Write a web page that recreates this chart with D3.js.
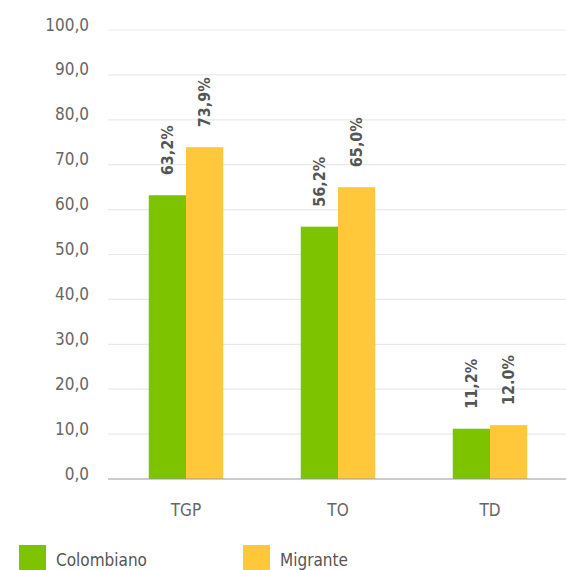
<!DOCTYPE html>
<html>
<head>
<meta charset="utf-8">
<script src="https://cdn.jsdelivr.net/npm/d3@7"></script>
<style>
  html, body { margin: 0; padding: 0; background: #fff; }
  svg { display: block; font-family: "Liberation Sans Narrow", "DejaVu Sans Condensed", Roboto, sans-serif; }
</style>
</head>
<body>
<svg id="chart" width="566" height="570"></svg>
<script>
// Indicadores laborales por origen
const categories = ["TGP", "TO", "TD"];
const seriesNames = ["Colombiano", "Migrante"];
const colombiano = [63.2, 56.2, 11.2];
const migrante = [73.9, 65.0, 12.0];
const valueLabels = [["63,2%", "56,2%", "11,2%"], ["73,9%", "65,0%", "12.0%"]];
const yTicks = [0, 10, 20, 30, 40, 50, 60, 70, 80, 90, 100];
const colors = ["#7dc300", "#ffc83a"];

const svg = d3.select("#chart");
const plotLeft = 108, plotRight = 566, plotTop = 30, plotBottom = 479;

const y = d3.scaleLinear().domain([0, 100]).range([plotBottom, plotTop]);
const x0 = d3.scaleBand().domain(categories).range([110, 566])
  .paddingInner(0.51).paddingOuter(0.255);
const x1 = d3.scaleBand().domain(seriesNames).range([0, x0.bandwidth()]);

// grid lines
svg.append("g").selectAll("line").data(yTicks.filter(d => d > 0)).join("line")
  .attr("x1", plotLeft).attr("x2", plotRight)
  .attr("y1", d => y(d)).attr("y2", d => y(d))
  .attr("stroke", "#e9e9e9").attr("stroke-width", 1.2);

// y tick labels
const fmt = d => d.toFixed(1).replace(".", ",");
svg.append("g").selectAll("text").data(yTicks).join("text")
  .attr("x", 89).attr("y", d => y(d) + 0.5)
  .attr("text-anchor", "end")
  .attr("font-size", 17).attr("fill", "#666")
  .text(fmt);

// bars
const data = seriesNames.map((s, i) => ({
  name: s, color: colors[i],
  values: (i === 0 ? colombiano : migrante).map((v, j) => ({ cat: categories[j], v, label: valueLabels[i][j] }))
}));

const groups = svg.append("g").selectAll("g").data(data).join("g")
  .attr("fill", d => d.color);

groups.selectAll("rect").data(d => d.values.map(v => ({ ...v, name: d.name }))).join("rect")
  .attr("x", d => x0(d.cat) + x1(d.name))
  .attr("y", d => y(d.v))
  .attr("width", x1.bandwidth())
  .attr("height", d => y(0) - y(d.v));

// value labels, rotated
svg.append("g").selectAll("text")
  .data(data.flatMap(d => d.values.map(v => ({ ...v, name: d.name }))))
  .join("text")
  .attr("transform", d => {
    const cx = x0(d.cat) + x1(d.name) + x1.bandwidth() / 2;
    return `translate(${cx},${y(d.v) - 20}) rotate(-90)`;
  })
  .attr("dy", "0.35em")
  .attr("font-size", 16).attr("font-weight", "bold").attr("fill", "#555")
  .text(d => d.label);

// baseline
svg.append("line")
  .attr("x1", plotLeft).attr("x2", plotRight)
  .attr("y1", y(0)).attr("y2", y(0))
  .attr("stroke", "#9a9a9a").attr("stroke-width", 1.2);

// category labels
svg.append("g").selectAll("text").data(categories).join("text")
  .attr("x", d => x0(d) + x0.bandwidth() / 2)
  .attr("y", 516)
  .attr("text-anchor", "middle")
  .attr("font-size", 17).attr("fill", "#666")
  .text(d => d);

// legend
const legendX = [19, 243];
const legend = svg.append("g").selectAll("g").data(seriesNames).join("g")
  .attr("transform", (d, i) => `translate(${legendX[i]},545)`);
legend.append("rect").attr("width", 27).attr("height", 27)
  .attr("fill", (d, i) => colors[i]);
legend.append("text").attr("x", 37).attr("y", 21)
  .attr("font-size", 17).attr("fill", "#555")
  .text(d => d);
</script>
</body>
</html>
